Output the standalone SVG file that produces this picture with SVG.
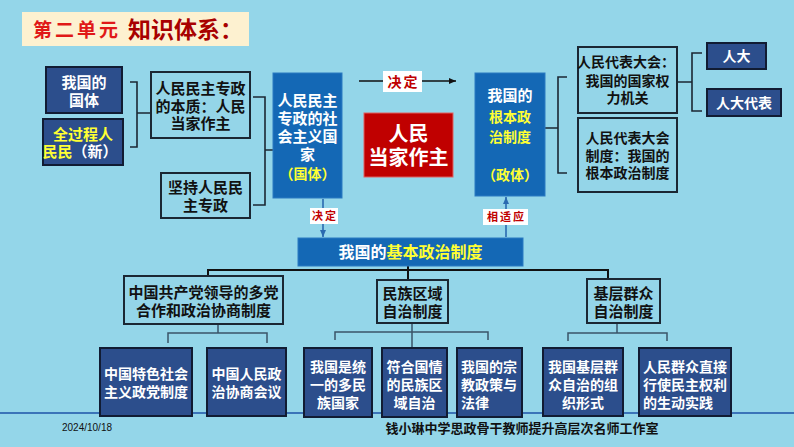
<svg xmlns="http://www.w3.org/2000/svg" width="794" height="447" viewBox="0 0 794 447">
<defs>
<style>
text,tspan{font-family:"Liberation Sans","Noto Sans CJK SC",sans-serif;font-weight:700;text-anchor:middle;dominant-baseline:central}
.dk rect{fill:#2c4e8c;stroke:#111c33;stroke-width:2}
.lt rect{fill:#94d5e8;stroke:#1b2733;stroke-width:2}
.bl rect{fill:#1468b5;stroke:#2a7ac2;stroke-width:1}
.w{fill:#ffffff}
.k{fill:#111111}
.y{fill:#ffff33}
.t15{font-size:15px}
.t14{font-size:14px}
.st,.st tspan{text-anchor:start}
.br{fill:none;stroke:#1b2733;stroke-width:1.6}
.tr{fill:none;stroke:#111111;stroke-width:2}
.sb{fill:none;stroke:#3a5468;stroke-width:1.5}
.lab rect{fill:#ffffff}
.lab text{fill:#c00000;letter-spacing:2px}
</style>
<marker id="ab" markerWidth="8" markerHeight="8" refX="7" refY="4" orient="auto" markerUnits="userSpaceOnUse"><path d="M0,1 L7,4 L0,7 z" fill="#111111"/></marker>
<marker id="ablue" markerWidth="8" markerHeight="8" refX="7" refY="4" orient="auto" markerUnits="userSpaceOnUse"><path d="M0,1 L7,4 L0,7 z" fill="#2a6ab0"/></marker>
</defs>
<rect x="0" y="0" width="794" height="447" fill="#94d6e9"/>
<line x1="0" y1="413" x2="794" y2="413" stroke="#3b74b8" stroke-width="2"/>
<g id="title">
<rect x="22" y="12" width="227" height="34" fill="#fdf1d0"/>
<text class="st" x="33" y="30" font-size="19" fill="#e01818" letter-spacing="3">第二单元</text>
<text class="st" x="128" y="30" font-size="23" fill="#a80000">知识体系：</text>
</g>
<g id="connectors">
<path class="br" d="M130,82 H137 V147 H130 M137,113 H151"/>
<path class="br" d="M253,97 H265 V205 H253 M265,150 H274"/>
<path class="br" d="M545,128 H558 M567,77 H558 V173 H567"/>
<path class="br" d="M677,82 H692 M702,53 H692 V111 H702"/>
<line x1="359" y1="81" x2="456" y2="81" stroke="#111" stroke-width="1.6" marker-end="url(#ab)"/>
<line x1="323" y1="199" x2="323" y2="237" stroke="#2a6ab0" stroke-width="1.6" marker-end="url(#ablue)"/>
<line x1="506" y1="237" x2="506" y2="197" stroke="#2a6ab0" stroke-width="1.6" marker-end="url(#ablue)"/>
<path class="tr" d="M408,258 V280 M208,276 V270 H608 V280"/>
<path class="sb" d="M218,324 V333 M168,343 V333 H267 V343"/>
<path class="sb" d="M412,323 V348 M335,340 V332 H488 V340"/>
<path class="sb" d="M617,323 V333 M568,341 V333 H667 V341"/>
</g>
<g id="lbl-jueding1" class="lab"><rect x="383" y="71" width="39" height="21"/><text x="403.5" y="81.5" font-size="14">决定</text></g>
<g id="lbl-jueding2" class="lab"><rect x="310" y="208" width="28" height="16"/><text x="325" y="216" font-size="11">决定</text></g>
<g id="lbl-xiangshiying" class="lab"><rect x="483" y="209" width="45" height="16"/><text x="506.5" y="217" font-size="11">相适应</text></g>
<g id="n-guoti" class="dk"><rect x="46" y="67" width="76" height="46"/><text class="w t15"><tspan x="84" y="82">我国的</tspan><tspan x="84" y="100">国体</tspan></text></g>
<g id="n-quanguocheng" class="dk"><rect x="43" y="119" width="80" height="46"/><text class="t15"><tspan class="y" x="83" y="134">全过程人</tspan><tspan class="y" x="80" y="151">民民</tspan><tspan class="w">（新）</tspan></text></g>
<g id="n-benzhi" class="lt"><rect x="151" y="72" width="99" height="66"/><text class="k t15"><tspan x="200.5" y="88">人民民主专政</tspan><tspan x="200.5" y="106">的本质：人民</tspan><tspan x="200.5" y="123">当家作主</tspan></text></g>
<g id="n-jianchi" class="lt"><rect x="161" y="173" width="89" height="45"/><text class="k t15"><tspan x="205.5" y="187">坚持人民民</tspan><tspan x="205.5" y="205">主专政</tspan></text></g>
<g id="n-guojia" class="bl"><rect x="273" y="73" width="69" height="125"/><text class="w t15"><tspan x="307.5" y="100">人民民主</tspan><tspan x="307.5" y="118">专政的社</tspan><tspan x="307.5" y="136">会主义国</tspan><tspan x="307.5" y="154">家</tspan><tspan class="y" font-size="14" x="307.5" y="174">（国体）</tspan></text></g>
<g id="n-dangjia"><rect x="364" y="113" width="89" height="64" fill="#c00000" stroke="#e06060" stroke-width="1"/><text class="w" font-size="20"><tspan x="408.5" y="134">人民</tspan><tspan x="408.5" y="158">当家作主</tspan></text></g>
<g id="n-zhengti" class="bl"><rect x="475" y="73" width="70" height="123"/><text class="w t15"><tspan x="510" y="95">我国的</tspan><tspan class="y" font-size="14" x="510" y="117">根本政</tspan><tspan class="y" font-size="14" x="510" y="137">治制度</tspan><tspan class="y" font-size="14" x="510" y="175">（政体）</tspan></text></g>
<g id="n-renda-jiguan" class="lt"><rect x="578" y="47" width="99" height="66"/><text class="k t14"><tspan x="626" y="62">人民代表大会：</tspan><tspan x="627.5" y="81">我国的国家权</tspan><tspan x="627.5" y="98">力机关</tspan></text></g>
<g id="n-renda-zhidu" class="lt"><rect x="578" y="118" width="99" height="74"/><text class="k t14"><tspan x="627.5" y="138">人民代表大会</tspan><tspan x="627.5" y="156">制度：我国的</tspan><tspan x="627.5" y="173">根本政治制度</tspan></text></g>
<g id="n-renda" class="dk"><rect x="707" y="43" width="59" height="26"/><text class="w t14" x="736.5" y="56">人大</text></g>
<g id="n-rendadaibiao" class="dk"><rect x="707" y="89" width="74" height="27"/><text class="w t14" x="744" y="102.5">人大代表</text></g>
<g id="n-jiben" class="bl"><rect x="298" y="238" width="225" height="28"/><text font-size="16" x="410.5" y="252"><tspan class="w">我国的</tspan><tspan class="y">基本政治制度</tspan></text></g>
<g id="n-duodang" class="lt"><rect x="124" y="276" width="159" height="48"/><text class="k t15"><tspan x="203.5" y="292">中国共产党领导的多党</tspan><tspan x="203.5" y="310">合作和政治协商制度</tspan></text></g>
<g id="n-minzu" class="lt"><rect x="377" y="280" width="71" height="43"/><text class="k t15"><tspan x="412.5" y="293">民族区域</tspan><tspan x="412.5" y="311">自治制度</tspan></text></g>
<g id="n-jiceng" class="lt"><rect x="587" y="279" width="73" height="44"/><text class="k t15"><tspan x="623.5" y="293">基层群众</tspan><tspan x="623.5" y="311">自治制度</tspan></text></g>
<g id="n-zhengdang" class="dk"><rect x="100" y="348" width="92" height="68"/><text class="w t14"><tspan x="146" y="374">中国特色社会</tspan><tspan x="146" y="392">主义政党制度</tspan></text></g>
<g id="n-zhengxie" class="dk"><rect x="207" y="348" width="79" height="68"/><text class="w t14"><tspan x="246.5" y="374">中国人民政</tspan><tspan x="246.5" y="392">治协商会议</tspan></text></g>
<g id="n-tongyi" class="dk"><rect x="304" y="348" width="68" height="69"/><text class="w t14"><tspan x="338" y="367">我国是统</tspan><tspan x="338" y="385">一的多民</tspan><tspan x="338" y="403">族国家</tspan></text></g>
<g id="n-guoqing" class="dk"><rect x="382" y="348" width="65" height="69"/><text class="w t14"><tspan x="414.5" y="367">符合国情</tspan><tspan x="414.5" y="385">的民族区</tspan><tspan x="414.5" y="403">域自治</tspan></text></g>
<g id="n-zongjiao" class="dk"><rect x="457" y="348" width="65" height="69"/><text class="w t14 st"><tspan x="461" y="367">我国的宗</tspan><tspan x="461" y="385">教政策与</tspan><tspan x="461" y="403">法律</tspan></text></g>
<g id="n-zuzhi" class="dk"><rect x="543" y="348" width="80" height="68"/><text class="w t14"><tspan x="583" y="367">我国基层群</tspan><tspan x="583" y="385">众自治的组</tspan><tspan x="583" y="403">织形式</tspan></text></g>
<g id="n-shijian" class="dk"><rect x="639" y="348" width="92" height="68"/><text class="w t14 st"><tspan x="643" y="367">人民群众直接</tspan><tspan x="643" y="385">行使民主权利</tspan><tspan x="643" y="403">的生动实践</tspan></text></g>
<g id="footer">
<text x="87" y="427" font-size="10" fill="#111" style="font-weight:400">2024/10/18</text>
<text x="522" y="428" font-size="13" fill="#111">钱小琳中学思政骨干教师提升高层次名师工作室</text>
</g>
</svg>
